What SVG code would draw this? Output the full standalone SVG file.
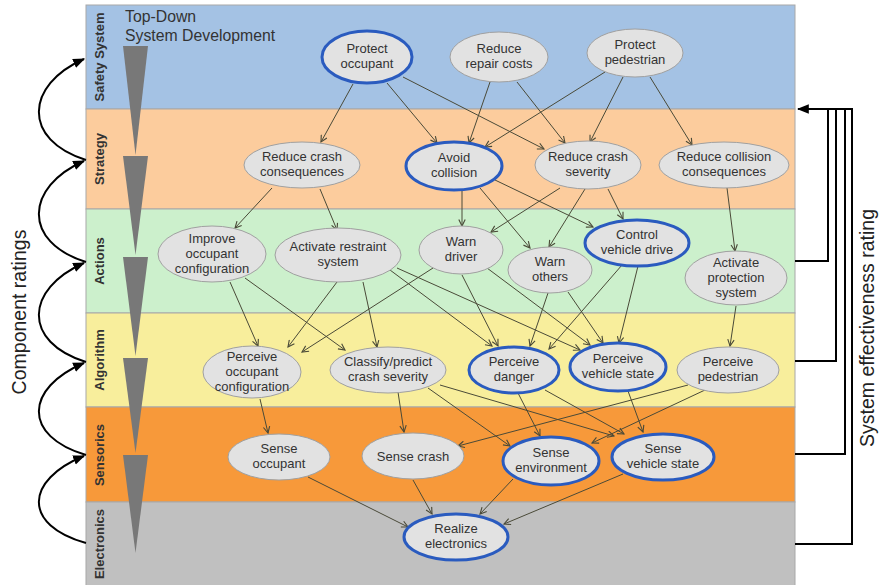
<svg xmlns="http://www.w3.org/2000/svg" width="880" height="585" viewBox="0 0 880 585">
<defs>
<marker id="ah" viewBox="0 0 10 10" refX="9" refY="5" markerWidth="8" markerHeight="8" markerUnits="userSpaceOnUse" orient="auto">
<path d="M1,1 L9,5 L1,9" fill="none" stroke="#4a4a38" stroke-width="1.4"/>
</marker>
<marker id="bh" viewBox="0 0 10 10" refX="9" refY="5" markerWidth="12" markerHeight="12" markerUnits="userSpaceOnUse" orient="auto">
<path d="M0,1 L10,5 L0,9 Z" fill="#000"/>
</marker>
<style>
.band{stroke:#a8a8a8;stroke-width:1}
.bl{font-family:"Liberation Sans",Arial,sans-serif;font-weight:bold;font-size:13px;fill:#333;text-anchor:middle}
.tri{fill:#787878}
.n{fill:#e2e2e2;stroke:#a0a0a0;stroke-width:1}
.nb{fill:#e2e2e2;stroke:#2a5bbf;stroke-width:3}
.t{font-family:"Liberation Sans",Arial,sans-serif;font-size:13px;fill:#333;text-anchor:middle}
.e line{stroke:#4a4a38;stroke-width:1;marker-end:url(#ah)}
.fb{fill:none;stroke:#000;stroke-width:2}
.big{font-family:"Liberation Sans",Arial,sans-serif;font-size:19.5px;fill:#222;text-anchor:middle}
</style>
</defs>
<rect width="880" height="585" fill="#fff"/>
<g id="bands">
<rect class="band" x="86" y="5" width="709" height="104" fill="#a4c2e4"/>
<rect class="band" x="86" y="109" width="709" height="100" fill="#fccc9d"/>
<rect class="band" x="86" y="209" width="709" height="104" fill="#ccf0cc"/>
<rect class="band" x="86" y="313" width="709" height="94" fill="#f8ee9c"/>
<rect class="band" x="86" y="407" width="709" height="95" fill="#f7993a"/>
<rect class="band" x="86" y="502" width="709" height="85" fill="#c0c0c0"/>
<text class="bl" transform="translate(104,57) rotate(-90)">Safety System</text>
<text class="bl" transform="translate(104,159) rotate(-90)">Strategy</text>
<text class="bl" transform="translate(104,261) rotate(-90)">Actions</text>
<text class="bl" transform="translate(104,360) rotate(-90)">Algorithm</text>
<text class="bl" transform="translate(104,455) rotate(-90)">Sensorics</text>
<text class="bl" transform="translate(104,544) rotate(-90)">Electronics</text>
</g>
<g id="topdown">
<polygon class="tri" points="123,46 148,46 135.5,155"/>
<polygon class="tri" points="123,156 148,156 135.5,255"/>
<polygon class="tri" points="123,257 148,257 135.5,356"/>
<polygon class="tri" points="123,358 148,358 135.5,453"/>
<polygon class="tri" points="123,455 148,455 135.5,553"/>
<text x="125" y="22" font-family="Liberation Sans,Arial,sans-serif" font-size="15.8" fill="#333">Top-Down</text>
<text x="125" y="41" font-family="Liberation Sans,Arial,sans-serif" font-size="15.8" fill="#333">System Development</text>
</g>
<g id="component-ratings">
<path class="fb" d="M86,160 C22,140 25,85 84,59" marker-end="url(#bh)"/>
<path class="fb" d="M86,262 C22,242 25,187 84,161" marker-end="url(#bh)"/>
<path class="fb" d="M86,362 C22,342 25,289 84,263" marker-end="url(#bh)"/>
<path class="fb" d="M86,455 C22,436 25,388 84,363" marker-end="url(#bh)"/>
<path class="fb" d="M86,543 C22,525 25,480 84,456" marker-end="url(#bh)"/>
<text class="big" transform="translate(26,312) rotate(-90)">Component ratings</text>
</g>
<g id="system-effectiveness">
<path class="fb" d="M795,261 H828 V109"/>
<path class="fb" d="M795,361 H836 V109"/>
<path class="fb" d="M795,454 H845 V109"/>
<path class="fb" d="M795,544 H852 V109 H798" marker-end="url(#bh)"/>
<text class="big" transform="translate(874,328) rotate(-90)">System effectiveness rating</text>
</g>
<g id="connectors" class="e">
<line x1="353" y1="84" x2="321" y2="142"/>
<line x1="387" y1="83" x2="437" y2="143"/>
<line x1="403" y1="77" x2="544" y2="149"/>
<line x1="490" y1="82" x2="469" y2="143"/>
<line x1="517" y1="82" x2="565" y2="143"/>
<line x1="605" y1="72" x2="485" y2="147"/>
<line x1="623" y1="77" x2="590" y2="142"/>
<line x1="650" y1="77" x2="692" y2="145"/>
<line x1="272" y1="188" x2="235" y2="228"/>
<line x1="320" y1="189" x2="337" y2="230"/>
<line x1="462" y1="190" x2="462" y2="226"/>
<line x1="480" y1="188" x2="530" y2="248"/>
<line x1="495" y1="180" x2="593" y2="227"/>
<line x1="560" y1="188" x2="491" y2="232"/>
<line x1="585" y1="189" x2="549" y2="247"/>
<line x1="608" y1="189" x2="623" y2="219"/>
<line x1="727" y1="188" x2="735" y2="251"/>
<line x1="230" y1="282" x2="258" y2="346"/>
<line x1="245" y1="278" x2="345" y2="350"/>
<line x1="337" y1="282" x2="288" y2="347"/>
<line x1="363" y1="282" x2="377" y2="347"/>
<line x1="390" y1="270" x2="492" y2="346"/>
<line x1="397" y1="268" x2="580" y2="350"/>
<line x1="433" y1="268" x2="302" y2="352"/>
<line x1="462" y1="275" x2="498" y2="346"/>
<line x1="487" y1="268" x2="590" y2="345"/>
<line x1="548" y1="293" x2="530" y2="346"/>
<line x1="568" y1="292" x2="603" y2="343"/>
<line x1="622" y1="265" x2="549" y2="349"/>
<line x1="638" y1="266" x2="619" y2="343"/>
<line x1="736" y1="306" x2="730" y2="346"/>
<line x1="260" y1="399" x2="268" y2="433"/>
<line x1="398" y1="392" x2="404" y2="432"/>
<line x1="428" y1="388" x2="510" y2="446"/>
<line x1="440" y1="385" x2="614" y2="436"/>
<line x1="518" y1="393" x2="540" y2="436"/>
<line x1="545" y1="390" x2="624" y2="434"/>
<line x1="628" y1="391" x2="643" y2="432"/>
<line x1="688" y1="385" x2="458" y2="446"/>
<line x1="705" y1="390" x2="592" y2="443"/>
<line x1="308" y1="477" x2="408" y2="527"/>
<line x1="413" y1="480" x2="432" y2="514"/>
<line x1="513" y1="479" x2="480" y2="514"/>
<line x1="623" y1="474" x2="504" y2="524"/>
</g>
<g id="protect-occupant"><ellipse class="nb" cx="367" cy="57" rx="45" ry="26"/><text class="t" x="367" y="53">Protect</text><text class="t" x="367" y="68">occupant</text></g>
<g id="reduce-repair-costs"><ellipse class="n" cx="499" cy="57" rx="49" ry="25"/><text class="t" x="499" y="53">Reduce</text><text class="t" x="499" y="68">repair costs</text></g>
<g id="protect-pedestrian"><ellipse class="n" cx="635" cy="53" rx="48" ry="24"/><text class="t" x="635" y="49">Protect</text><text class="t" x="635" y="64">pedestrian</text></g>
<g id="reduce-crash-consequences"><ellipse class="n" cx="302" cy="165" rx="58" ry="23"/><text class="t" x="302" y="161">Reduce crash</text><text class="t" x="302" y="176">consequences</text></g>
<g id="avoid-collision"><ellipse class="nb" cx="454" cy="166" rx="48" ry="24"/><text class="t" x="454" y="162">Avoid</text><text class="t" x="454" y="177">collision</text></g>
<g id="reduce-crash-severity"><ellipse class="n" cx="588" cy="165" rx="53" ry="24"/><text class="t" x="588" y="161">Reduce crash</text><text class="t" x="588" y="176">severity</text></g>
<g id="reduce-collision-consequences"><ellipse class="n" cx="724" cy="165" rx="65" ry="23"/><text class="t" x="724" y="161">Reduce collision</text><text class="t" x="724" y="176">consequences</text></g>
<g id="improve-occupant-configuration"><ellipse class="n" cx="212" cy="254" rx="54" ry="28"/><text class="t" x="212" y="243">Improve</text><text class="t" x="212" y="258">occupant</text><text class="t" x="212" y="273">configuration</text></g>
<g id="activate-restraint-system"><ellipse class="n" cx="338" cy="255" rx="63" ry="27"/><text class="t" x="338" y="251">Activate restraint</text><text class="t" x="338" y="266">system</text></g>
<g id="warn-driver"><ellipse class="n" cx="461" cy="250" rx="42" ry="24"/><text class="t" x="461" y="246">Warn</text><text class="t" x="461" y="261">driver</text></g>
<g id="warn-others"><ellipse class="n" cx="550" cy="270" rx="42" ry="23"/><text class="t" x="550" y="266">Warn</text><text class="t" x="550" y="281">others</text></g>
<g id="control-vehicle-drive"><ellipse class="nb" cx="637" cy="243" rx="52" ry="23"/><text class="t" x="637" y="239">Control</text><text class="t" x="637" y="254">vehicle drive</text></g>
<g id="activate-protection-system"><ellipse class="n" cx="736" cy="278" rx="51" ry="27"/><text class="t" x="736" y="267">Activate</text><text class="t" x="736" y="282">protection</text><text class="t" x="736" y="297">system</text></g>
<g id="perceive-occupant-configuration"><ellipse class="n" cx="252" cy="372" rx="49" ry="26"/><text class="t" x="252" y="361">Perceive</text><text class="t" x="252" y="376">occupant</text><text class="t" x="252" y="391">configuration</text></g>
<g id="classify-predict-crash-severity"><ellipse class="n" cx="388" cy="370" rx="58" ry="23"/><text class="t" x="388" y="366">Classify/predict</text><text class="t" x="388" y="381">crash severity</text></g>
<g id="perceive-danger"><ellipse class="nb" cx="514" cy="370" rx="45" ry="23"/><text class="t" x="514" y="366">Perceive</text><text class="t" x="514" y="381">danger</text></g>
<g id="perceive-vehicle-state"><ellipse class="nb" cx="618" cy="367" rx="48" ry="24"/><text class="t" x="618" y="363">Perceive</text><text class="t" x="618" y="378">vehicle state</text></g>
<g id="perceive-pedestrian"><ellipse class="n" cx="728" cy="370" rx="51" ry="23"/><text class="t" x="728" y="366">Perceive</text><text class="t" x="728" y="381">pedestrian</text></g>
<g id="sense-occupant"><ellipse class="n" cx="279" cy="457" rx="51" ry="23"/><text class="t" x="279" y="453">Sense</text><text class="t" x="279" y="468">occupant</text></g>
<g id="sense-crash"><ellipse class="n" cx="413" cy="456" rx="51" ry="23"/><text class="t" x="413" y="461">Sense crash</text></g>
<g id="sense-environment"><ellipse class="nb" cx="551" cy="461" rx="48" ry="24"/><text class="t" x="551" y="457">Sense</text><text class="t" x="551" y="472">environment</text></g>
<g id="sense-vehicle-state"><ellipse class="nb" cx="663" cy="457" rx="51" ry="23"/><text class="t" x="663" y="453">Sense</text><text class="t" x="663" y="468">vehicle state</text></g>
<g id="realize-electronics"><ellipse class="nb" cx="456" cy="537" rx="52" ry="23"/><text class="t" x="456" y="533">Realize</text><text class="t" x="456" y="548">electronics</text></g>
</svg>
